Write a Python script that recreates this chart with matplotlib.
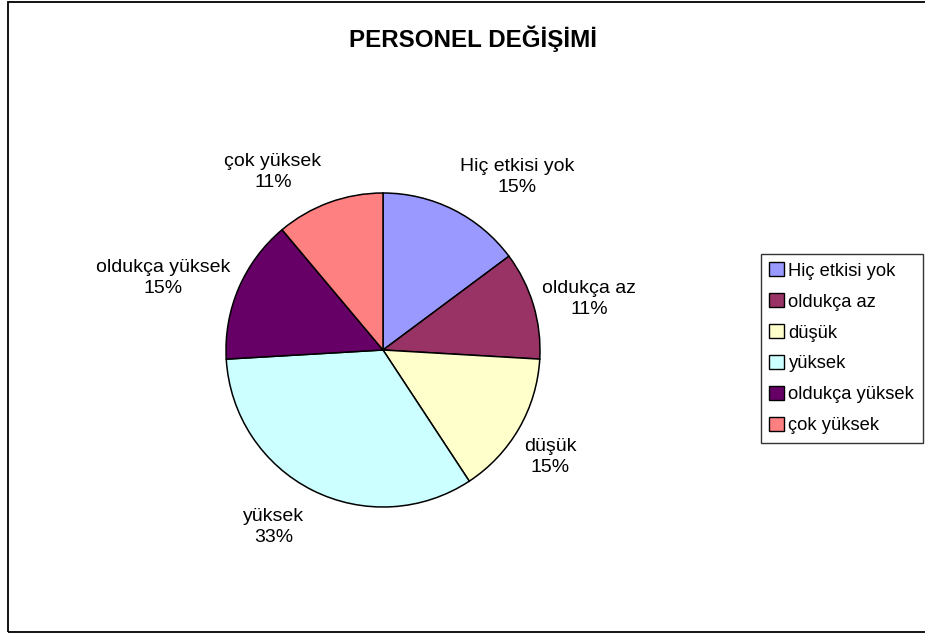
import matplotlib
matplotlib.use("Agg")
import matplotlib.pyplot as plt
from matplotlib.patches import Rectangle

W, H = 925, 635

categories = ["Hiç etkisi yok", "oldukça az", "düşük", "yüksek", "oldukça yüksek", "çok yüksek"]
counts = [4, 3, 4, 9, 4, 3]
colors = ["#9999FF", "#993366", "#FFFFCC", "#CCFFFF", "#660066", "#FF8080"]
# label centres in pixels
label_px = [(517, 177), (589, 299), (550, 457), (274, 527), (163, 278), (273, 172)]

plt.rcParams["font.family"] = ["Liberation Sans", "DejaVu Sans"]

fig = plt.figure(figsize=(W / 100, H / 100), dpi=100)
fig.patch.set_facecolor("white")

# chart frame (right edge runs off the picture)
fig.patches.append(Rectangle((8 / W, 1 - 632 / H), 960 / W, 630 / H, transform=fig.transFigure,
                             fill=False, edgecolor="black", linewidth=1.3))

cx, cy, R = 383, 350, 157
ax = fig.add_axes([(cx - R) / W, 1 - (cy + R) / H, 2 * R / W, 2 * R / H])
ax.axis("off")

total = sum(counts)
wedges, _ = ax.pie(counts, colors=colors, startangle=90, counterclock=False, radius=1,
                   wedgeprops={"edgecolor": "black", "linewidth": 1.1})
ax.set_xlim(-1, 1)
ax.set_ylim(-1, 1)
ax.set_aspect("equal")

for cat, n, (px, py) in zip(categories, counts, label_px):
    pct = round(100 * n / total)
    fig.text(px / W, 1 - py / H, f"{cat}\n{pct}%", ha="center", va="center",
             fontsize=14, linespacing=1.25)

fig.text(473 / W, 1 - 39 / H, "PERSONEL DEĞİŞİMİ", ha="center", va="center",
         fontsize=17.4, fontweight="bold")

leg = fig.legend(wedges, categories, loc="upper left", bbox_to_anchor=(761 / W, 1 - 254 / H),
                 frameon=True, fancybox=False, edgecolor="black", fontsize=13.2,
                 handlelength=0.8, handleheight=0.8, handletextpad=0.25,
                 labelspacing=0.74, borderpad=0.45, borderaxespad=0)
leg.get_frame().set_linewidth(1.0)
for h in leg.legend_handles:
    h.set_edgecolor("black")
    h.set_linewidth(1.0)

fig.savefig("out.png", dpi=100)
